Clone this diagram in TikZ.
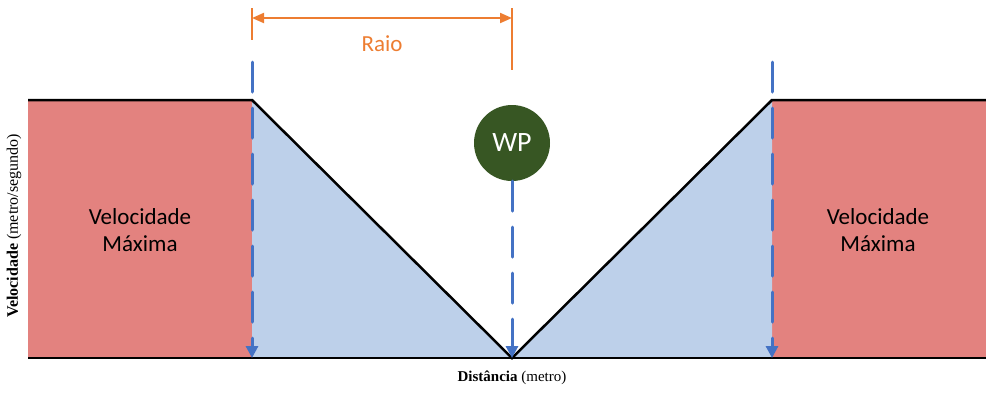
\documentclass[tikz,border=0pt]{standalone}
\usepackage{fontspec}
\setmainfont{Liberation Serif}
\newfontfamily\calib{Carlito}
\usetikzlibrary{arrows.meta}
\definecolor{redfill}{HTML}{E3827F}
\definecolor{bluefill}{HTML}{BDD0EA}
\definecolor{dashblue}{HTML}{4472C4}
\definecolor{orangeline}{HTML}{ED7D31}
\definecolor{wpgreen}{HTML}{375623}
\tikzset{
  guide/.style={draw=dashblue, line width=3pt, dash pattern=on 30pt off 16pt, line cap=round, -{Triangle[length=12pt,width=12pt]}},
  dimline/.style={draw=orangeline, line width=2pt},
  outline/.style={draw=black, line width=2.5pt, line join=miter},
  lbl/.style={font=\calib\fontsize{23}{27}\selectfont, align=center},
}
\begin{document}
\begin{tikzpicture}[x=1pt,y=-1pt]
\useasboundingbox (0,0) rectangle (986,392);
% fills
\fill[redfill] (28,100) rectangle (252,358);
\fill[redfill] (772,100) rectangle (986,358);
\fill[bluefill] (252,100) -- (512,358) -- (252,358) -- cycle;
\fill[bluefill] (772,100) -- (512,358) -- (772,358) -- cycle;
% coordinates
\coordinate (tl) at (28,100);
\coordinate (kl) at (252,100);
\coordinate (v) at (512,358);
\coordinate (kr) at (772,100);
\coordinate (tr) at (986,100);
\coordinate (bl) at (28,358);
\coordinate (br) at (986,358);
% outline
\draw[outline] (tl) -- (kl) -- (v) -- (kr) -- (tr);
\draw[draw=black, line width=2.5pt] (bl) -- (br);
% WP
\node[circle, fill=wpgreen, minimum size=76pt, inner sep=0pt, text=white, font=\calib\fontsize{28}{30}\selectfont] (wp) at (512,143) {WP};
% guides
\coordinate (gl0) at (252,62);
\coordinate (gl1) at (252,358);
\coordinate (gr0) at (772,62);
\coordinate (gr1) at (772,358);
\draw[guide] (gl0) -- (gl1);
\draw[guide] (gr0) -- (gr1);
\draw[guide] (wp.south) -- (v);
% dimension
\coordinate (d1t) at (252,8);
\coordinate (d1b) at (252,40);
\coordinate (d2t) at (512,8);
\coordinate (d2b) at (512,70);
\coordinate (a1) at (252,18);
\coordinate (a2) at (512,18);
\draw[dimline] (d1t) -- (d1b);
\draw[dimline] (d2t) -- (d2b);
\draw[dimline, {Triangle[length=12pt,width=10pt]}-{Triangle[length=12pt,width=10pt]}] (a1) -- (a2);
\node[lbl, text=orangeline] (raio) at (382,44) {Raio};
% labels
\node[lbl] (vmL) at (140,230) {Velocidade\\Máxima};
\node[lbl] (vmR) at (878,230) {Velocidade\\Máxima};
\node[rotate=90, font=\fontsize{16}{18}\selectfont] (ylab) at (14,226) {\textbf{Velocidade} (metro/segundo)};
\node[font=\fontsize{15}{17}\selectfont] (xlab) at (512,378) {\textbf{Distância} (metro)};
\end{tikzpicture}
\end{document}
